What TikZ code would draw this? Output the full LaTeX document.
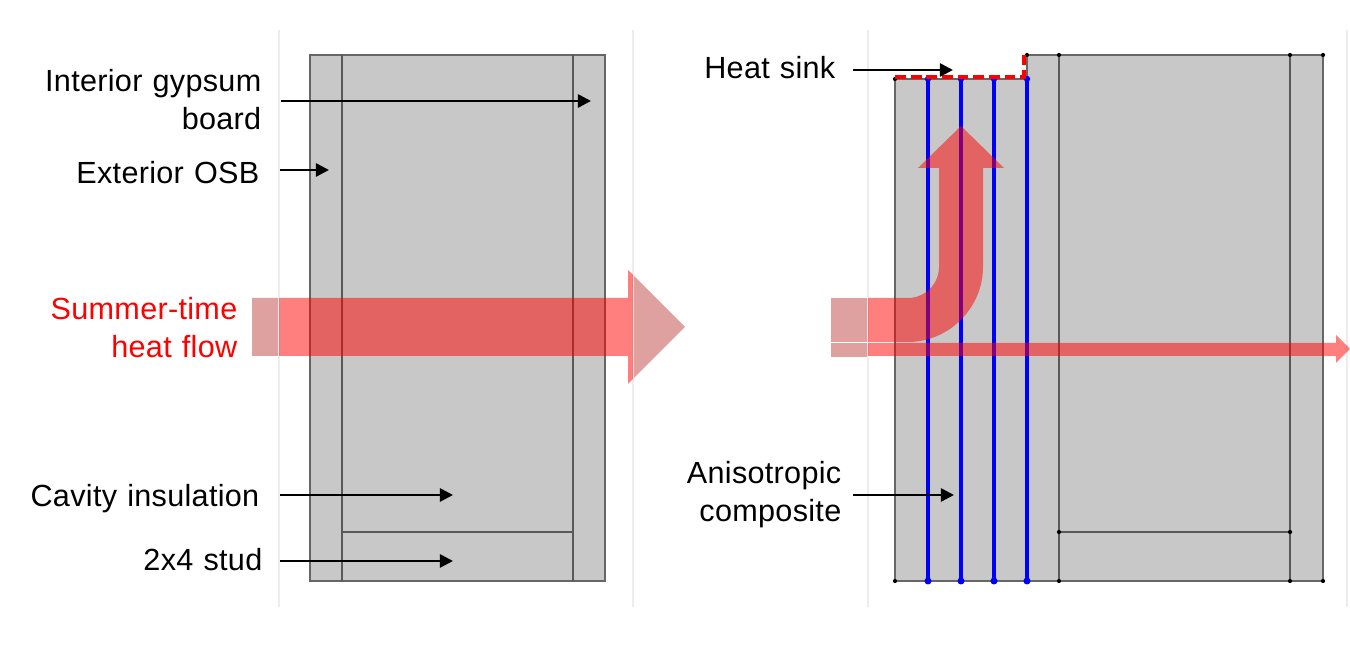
\documentclass[tikz,border=0pt]{standalone}
\usepackage{fontspec}
\setmainfont[LetterSpace=1,WordSpace=1.15]{Liberation Sans}
\usetikzlibrary{arrows.meta,positioning}

\definecolor{wallgray}{HTML}{C8C8C8}
\definecolor{dullred}{HTML}{DFA0A0}
\definecolor{edgegray}{HTML}{EDEDED}

\begin{document}
\begin{tikzpicture}[
    x=0.01cm, y=-0.01cm,
    label/.style={align=right, font=\fontsize{8.7pt}{10.8pt}\selectfont, inner sep=0pt, text=black},
    heat/.style={align=right, font=\fontsize{8.7pt}{10.8pt}\selectfont, inner sep=0pt, text=red},
    wall/.style={fill=wallgray, draw=black!60, line width=0.35pt},
    seam/.style={draw=black!65, line width=0.35pt},
    fiber/.style={draw=blue, line width=1pt},
    arrow/.style={-{Triangle[length=0.13cm,width=0.13cm]}, line width=0.7pt},
    frameline/.style={draw=edgegray, line width=0.3pt},
    flow/.style={fill=red, opacity=0.5}
]
\useasboundingbox (0,0) rectangle (1350,668);

% flow outside the panels
\fill[dullred] (252,298) -- (628,298) -- (628,270) -- (685,327) -- (628,384) -- (628,356) -- (252,356) -- cycle;
\fill[dullred] (831,298) rectangle (868,342);
\fill[dullred] (831,343) rectangle (868,357);
\fill[white] (279,30) rectangle (633,607);
\draw[frameline] (279,30) -- (279,607);
\draw[frameline] (633,30) -- (633,607);
\draw[frameline] (868,30) -- (868,607);
\draw[frameline] (1347,30) -- (1347,607);

% left wall
\path[wall] (310,55) rectangle (605,581);
\draw[seam] (342,55) -- (342,581);
\draw[seam] (573,55) -- (573,581);
\draw[seam] (342,532) -- (573,532);

% right wall
\path[wall] (895,79) -- (1027,79) -- (1027,55) -- (1323,55) -- (1323,581) -- (895,581) -- cycle;
\draw[seam] (1059,55) -- (1059,581);
\draw[seam] (1290,55) -- (1290,581);
\draw[seam] (1059,532) -- (1290,532);
\foreach \px/\py in {895/79,1027/55,1059/55,1290/55,1323/55,895/581,1059/581,1290/581,1323/581,1059/532,1290/532}
    \fill[black] (\px,\py) circle (0.6pt);

% composite
\foreach \px in {928,961,994,1027} {
    \draw[fiber] (\px,79) -- (\px,581);
    \fill[blue] (\px,581) circle (1pt);
    \fill[blue] (\px,79) circle (0.9pt);
}

% heat sink
\draw[red, line width=1.1pt, dash pattern=on 3.1pt off 1.35pt] (895,77) -- (1024,77) -- (1024,55);

% flow arrows
\begin{scope}
\clip (279,0) rectangle (633,668);
\fill[flow] (252,298) -- (628,298) -- (628,270) -- (685,327) -- (628,384) -- (628,356) -- (252,356) -- cycle;
\end{scope}
\begin{scope}
\clip (868,0) rectangle (1350,668);
\fill[flow] (831,298) -- (908,298) .. controls (925,298) and (939,284) .. (939,267) -- (939,168) -- (918,168) -- (961,126) -- (1004,168) -- (983,168) -- (983,267) .. controls (983,308) and (949,342) .. (908,342) -- (831,342) -- cycle;
\fill[flow] (831,343) -- (1336,343) -- (1336,335) -- (1350,349) -- (1336,363) -- (1336,356) -- (831,356) -- cycle;
\end{scope}

% labels
\node[label, anchor=east] (gypsum) at (262,100) {Interior gypsum\\board};
\node[label, anchor=east] (osb) at (260,173) {Exterior OSB};
\node[heat, anchor=east] (summer) at (238,328) {Summer-time\\heat flow};
\node[label, anchor=east] (cavity) at (260,499) {Cavity insulation};
\node[label, anchor=east] (stud) at (263,560) {2x4 stud};
\node[label, anchor=east] (sink) at (836,68) {Heat sink};
\node[label, anchor=east] (composite) at (842,495) {Anisotropic\\composite};

\coordinate (gypsumfrom) at (281,101);
\coordinate (gypsumto) at (591,101);
\coordinate (osbfrom) at (280,170);
\coordinate (osbto) at (329,170);
\coordinate (cavityfrom) at (280,495);
\coordinate (cavityto) at (453,495);
\coordinate (studfrom) at (280,561);
\coordinate (studto) at (453,561);
\coordinate (sinkfrom) at (853,70);
\coordinate (sinkto) at (953,70);
\coordinate (compositefrom) at (853,495);
\coordinate (compositeto) at (954,495);

\draw[arrow] (gypsumfrom) -- (gypsumto);
\draw[arrow] (osbfrom) -- (osbto);
\draw[arrow] (cavityfrom) -- (cavityto);
\draw[arrow] (studfrom) -- (studto);
\draw[arrow] (sinkfrom) -- (sinkto);
\draw[arrow] (compositefrom) -- (compositeto);
\end{tikzpicture}
\end{document}
